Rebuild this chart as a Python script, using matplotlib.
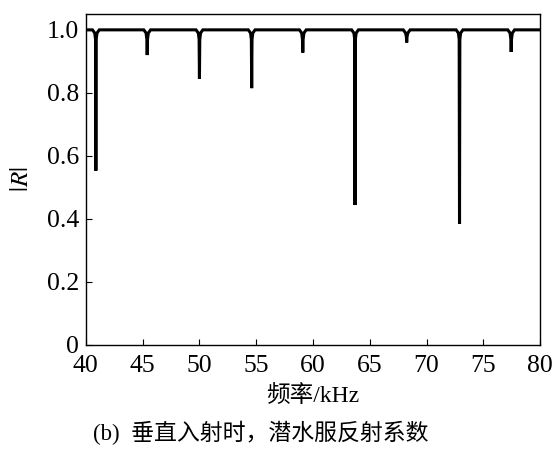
import matplotlib
matplotlib.use('Agg')
import matplotlib.pyplot as plt

plt.rcParams['font.family'] = ['Liberation Serif', 'Noto Sans CJK SC']
plt.rcParams['mathtext.fontset'] = 'stix'

# |R| vs frequency (points around each resonance dip)
freq = [40.0, 40.58, 40.78, 40.85, 40.88, 40.91, 40.98, 41.18,
        45.10, 45.30, 45.37, 45.40, 45.43, 45.50, 45.70,
        49.70, 49.90, 49.97, 50.00, 50.03, 50.10, 50.30,
        54.30, 54.50, 54.57, 54.60, 54.63, 54.70, 54.90,
        58.80, 59.00, 59.07, 59.10, 59.13, 59.20, 59.40,
        63.40, 63.60, 63.67, 63.70, 63.73, 63.80, 64.00,
        67.95, 68.15, 68.22, 68.25, 68.28, 68.35, 68.55,
        72.60, 72.80, 72.87, 72.90, 72.93, 73.00, 73.20,
        77.15, 77.35, 77.42, 77.45, 77.48, 77.55, 77.75,
        80.0]
R = [1.0, 1.0, 0.99, 0.97, 0.553, 0.97, 0.99, 1.0,
     1.0, 0.99, 0.97, 0.92, 0.97, 0.99, 1.0,
     1.0, 0.99, 0.97, 0.845, 0.97, 0.99, 1.0,
     1.0, 0.99, 0.97, 0.815, 0.97, 0.99, 1.0,
     1.0, 0.99, 0.97, 0.928, 0.97, 0.99, 1.0,
     1.0, 0.99, 0.97, 0.444, 0.97, 0.99, 1.0,
     1.0, 0.99, 0.978, 0.96, 0.978, 0.99, 1.0,
     1.0, 0.99, 0.97, 0.384, 0.97, 0.99, 1.0,
     1.0, 0.99, 0.97, 0.93, 0.97, 0.99, 1.0,
     1.0]

xticks = [40, 45, 50, 55, 60, 65, 70, 75, 80]
yticks = [0, 0.2, 0.4, 0.6, 0.8, 1.0]
ylabels = ['0', '0.2', '0.4', '0.6', '0.8', '1.0']

fig = plt.figure(figsize=(5.54, 4.55), dpi=100)
ax = fig.add_axes([0.155, 0.242, 0.82, 0.727])
ax.plot(freq, R, color='black', lw=2.2, solid_joinstyle='miter')

ax.set_xlim(40, 80)
ax.set_ylim(0, 1.05)
ax.set_xticks(xticks)
ax.set_yticks(yticks)
ax.set_yticklabels(ylabels)
ax.tick_params(direction='in', length=4, width=0.8, labelsize=18.5)
ax.tick_params(axis='x', pad=7.5)
ax.tick_params(axis='y', pad=5)
for s in ax.spines.values():
    s.set_linewidth(1.0)

ax.set_xlabel('频率/kHz', fontsize=17)
ax.xaxis.set_label_coords(0.5, -0.155)
ax.xaxis.label.set_va('center')
ax.set_ylabel('$|R|$', fontsize=18)
ax.yaxis.set_label_coords(-0.14, 0.5)
ax.yaxis.label.set_va('center')
fig.text(0.47, 0.048, '(b)  垂直入射时，潜水服反射系数', fontsize=16.5, ha='center', va='center')

fig.savefig('out.png', dpi=100)
